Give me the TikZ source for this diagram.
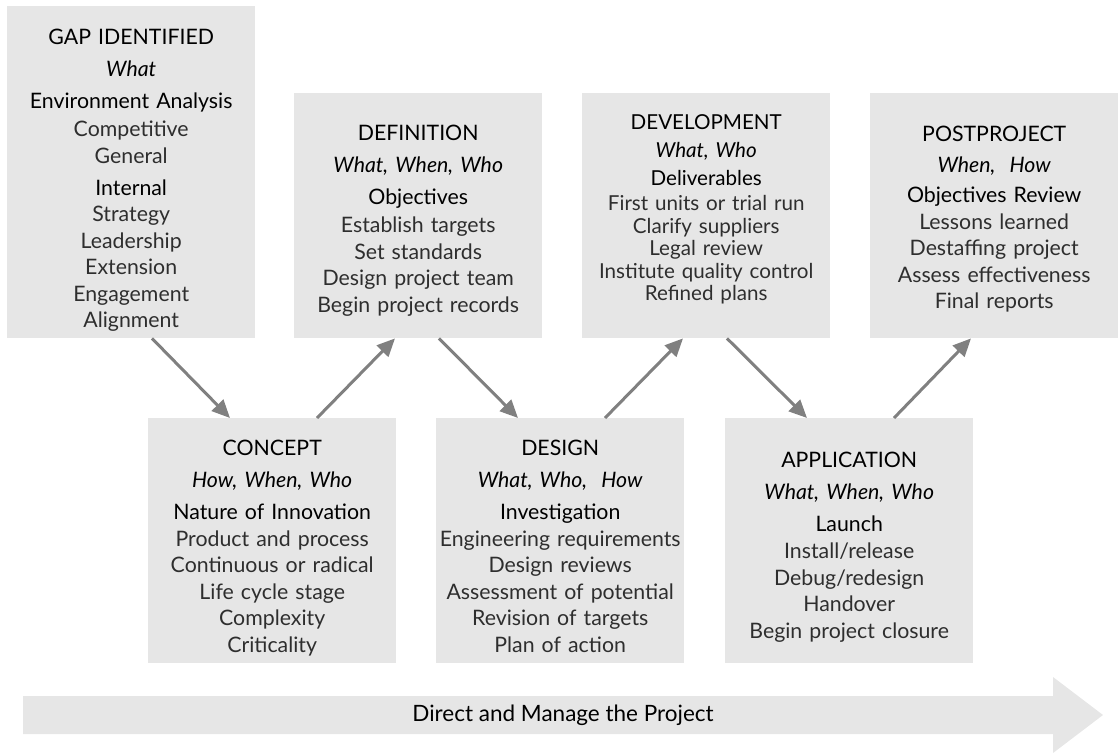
\documentclass[tikz,border=0pt]{standalone}
\usepackage{fontspec}
\setmainfont{Lato}
\usetikzlibrary{arrows.meta,calc}
\definecolor{boxgray}{HTML}{E6E6E6}
\definecolor{arrgray}{HTML}{808080}
\definecolor{itemcol}{HTML}{2E2E2E}
\newcommand{\hd}[1]{\textcolor{black}{#1}}
\newcommand{\ttl}[1]{\textcolor{black}{#1}}
\newcommand{\wh}[1]{\textcolor{black}{\textit{#1}}}
\begin{document}
\begin{tikzpicture}[x=1pt,y=-1pt,
  stagebox/.style={fill=boxgray, draw=none, anchor=north west,
    minimum width=248pt, inner sep=0pt},
  upper/.style={stagebox, minimum height=245pt},
  lower/.style={stagebox, minimum height=245pt},
  stagetext/.style={anchor=north, text width=246pt, inner sep=0pt, align=center,
    text=itemcol, font=\fontsize{21.3}{26.5}\selectfont},
  tighttext/.style={stagetext, font=\fontsize{20.6}{22.5}\selectfont},
  conn/.style={draw=arrgray, line width=3pt, -{Triangle[length=18pt,width=16pt]}},
  bandtext/.style={font=\fontsize{22.5}{26}\selectfont, text=black}]
\useasboundingbox (0,0) rectangle (1118,752);

% boxes
\node[stagebox, minimum height=332pt] (gap) at (7,6) {};
\node[upper] (def) at (294,93) {};
\node[upper] (dev) at (582,93) {};
\node[upper] (post) at (870,93) {};
\node[lower] (con) at (148,418) {};
\node[lower] (des) at (436,418) {};
\node[lower] (app) at (725,418) {};

% texts
\node[stagetext] (gapt) at ($(gap.north)+(0,23)$)
 {\ttl{GAP IDENTIFIED}\\[5.5pt]
  \wh{What}\\[5.5pt]
  \hd{Environment Analysis}\\[1.5pt]
  Competitive\\
  General\\[5.5pt]
  \hd{Internal}\\
  Strategy\\
  Leadership\\
  Extension\\
  Engagement\\
  Alignment};

\node[stagetext] (deft) at ($(def.north)+(0,32)$)
 {\ttl{DEFINITION}\\[5.5pt]
  \wh{What, When, Who}\\[5.5pt]
  \hd{Objectives}\\[1.5pt]
  Establish targets\\
  Set standards\\
  Design project team\\
  Begin project records};

\node[tighttext] (devt) at ($(dev.north)+(0,21.5)$)
 {\ttl{DEVELOPMENT}\\[5.5pt]
  \wh{What, Who}\\[5.5pt]
  \hd{Deliverables}\\[2.5pt]
  First units or trial run\\
  Clarify suppliers\\
  Legal review\\
  Institute quality control\\
  Refined plans};

\node[stagetext] (postt) at ($(post.north)+(0,33)$)
 {\ttl{POSTPROJECT}\\[4pt]
  \wh{When,\ \ How}\\[4pt]
  \hd{Objectives Review}\\[0pt]
  Lessons learned\\
  Destaffing project\\
  Assess effectiveness\\
  Final reports};

\node[stagetext] (cont) at ($(con.north)+(0,22)$)
 {\ttl{CONCEPT}\\[5.5pt]
  \wh{How, When, Who}\\[5.5pt]
  \hd{Nature of Innovation}\\[0pt]
  Product and process\\
  Continuous or radical\\
  Life cycle stage\\
  Complexity\\
  Criticality};

\node[stagetext] (dest) at ($(des.north)+(0,22)$)
 {\ttl{DESIGN}\\[5.5pt]
  \wh{What, Who,\ \ How}\\[5.5pt]
  \hd{Investigation}\\[0pt]
  Engineering requirements\\
  Design reviews\\
  Assessment of potential\\
  Revision of targets\\
  Plan of action};

\node[stagetext] (appt) at ($(app.north)+(0,34)$)
 {\ttl{APPLICATION}\\[5.5pt]
  \wh{What, When, Who}\\[5pt]
  \hd{Launch}\\[1pt]
  Install/release\\
  Debug/redesign\\
  Handover\\
  Begin project closure};

% connectors
\draw[conn] ($(gap.south west)+(145,0)$) -- ($(con.north west)+(82,0)$);
\draw[conn] ($(con.north west)+(169,0)$) -- ($(def.south west)+(101,0)$);
\draw[conn] ($(def.south west)+(145,0)$) -- ($(des.north west)+(82,0)$);
\draw[conn] ($(des.north west)+(169,0)$) -- ($(dev.south west)+(101,0)$);
\draw[conn] ($(dev.south west)+(145,0)$) -- ($(app.north west)+(82,0)$);
\draw[conn] ($(app.north west)+(169,0)$) -- ($(post.south west)+(101,0)$);

% bottom band arrow
\fill[boxgray] (23,696) -- (1053,696) -- (1053,677) -- (1103,715)
  -- (1053,753) -- (1053,734) -- (23,734) -- cycle;
\node[bandtext] (band) at (563,715) {Direct and Manage the Project};
\end{tikzpicture}
\end{document}
